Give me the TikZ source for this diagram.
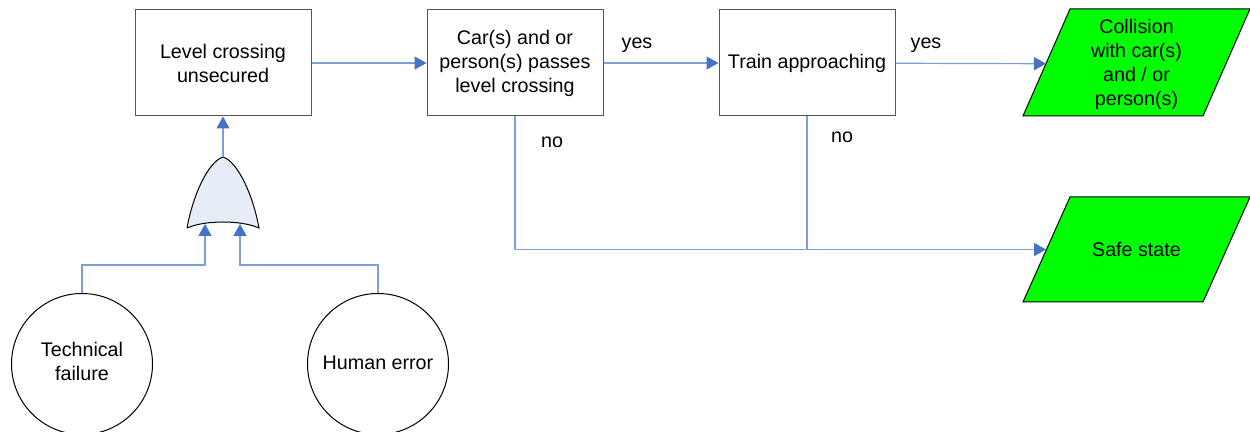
\documentclass[tikz,border=0pt]{standalone}
\usepackage{fontspec}
\setmainfont{Liberation Sans}
\usetikzlibrary{arrows.meta,
  positioning
}
\definecolor{lineblue}{RGB}{125,158,214}
\definecolor{tipblue}{RGB}{68,114,196}
\definecolor{gatefill}{RGB}{230,237,247}
\definecolor{boxgray}{RGB}{85,85,85}
\definecolor{outgreen}{RGB}{0,255,0}

\begin{document}
\begin{tikzpicture}[x=0.5pt, y=-0.5pt,
    font=\fontsize{9.85}{12}\selectfont,
    event/.style={draw=boxgray, line width=0.5pt, rectangle, minimum width=88pt, minimum height=53pt, align=center, inner sep=0pt},
    cause/.style={draw, line width=0.5pt, circle, minimum size=70.5pt, align=center, inner sep=0pt},
    outline/.style={draw, line width=0.5pt, fill=outgreen},
    outcome/.style={rectangle, minimum width=90pt, minimum height=53pt, align=center, inner sep=0pt},
    lbl/.style={anchor=base, inner sep=0pt},
    conn/.style={draw=lineblue, line width=0.6pt, -{Triangle[length=6pt, width=6.5pt, color=tipblue]}},
    wire/.style={draw=lineblue, line width=0.6pt}
  ]
  \useasboundingbox (0,0) rectangle (1250,432);

  % events
  \node[event] (lcu) at (223,63) {Level crossing\\unsecured};
  \node[event] (cars) at (515,63) {Car(s) and or\\person(s) passes\\level crossing};
  \node[event] (train) at (807,63) {Train approaching};

  % outcomes
  \draw[outline] (1023,116) -- (1070,9) -- (1250,9) -- (1203,116) -- cycle;
  \draw[outline] (1023,302) -- (1070,197) -- (1250,197) -- (1203,302) -- cycle;
  \node[outcome] (coll) at (1136.5,64) {Collision\\with car(s)\\and / or\\person(s)};
  \node[outcome] (safe) at (1136.5,249.5) {Safe state};

  % basic causes
  \node[cause] (tech) at (82,364) {\raisebox{1pt}{\begin{tabular}{@{}c@{}}Technical\\failure\end{tabular}}};
  \node[cause] (human) at (378,364) {\raisebox{1pt}{Human error}};

  % OR gate
  \draw[fill=gatefill, line width=0.5pt] (187,228) .. controls (193,195) and (208,162) .. (223,157)
    .. controls (238,162) and (253,195) .. (259,228)
    .. controls (241,220) and (205,220) .. (187,228);
  \coordinate (gtip) at (223,157);
  \coordinate (gin1) at (205,224);
  \coordinate (gin2) at (240,224);

  % labels
  \node[lbl] (yes1) at (637,49) {yes};
  \node[lbl] (yes2) at (926,49) {yes};
  \node[lbl] (no1) at (552,148) {no};
  \node[lbl] (no2) at (842,143) {no};

  % connectors
  \draw[conn] (gtip) -- (lcu);
  \draw[conn] (tech.north) -- ++(0,-28) -| (gin1);
  \draw[conn] (human.north) -- ++(0,-28) -| (gin2);
  \draw[conn] (lcu) -- (cars);
  \draw[conn] (cars) -- (train);
  \draw[conn] (train) -- (coll);
  \draw[conn] (cars.south) |- (safe);
  \draw[wire] (train.south) -- (train.south |- safe);
\end{tikzpicture}
\end{document}
